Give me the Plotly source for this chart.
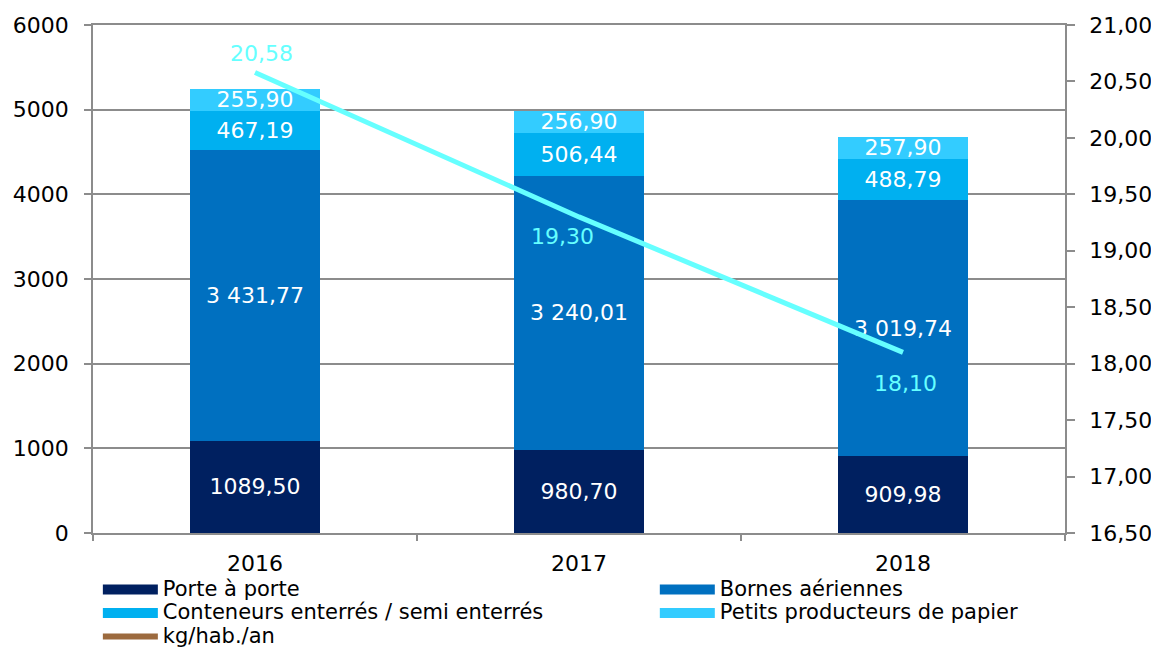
import plotly.graph_objects as go

years = ["2016", "2017", "2018"]
porte_a_porte = [1089.50, 980.70, 909.98]
bornes_aeriennes = [3431.77, 3240.01, 3019.74]
conteneurs = [467.19, 506.44, 488.79]
petits_producteurs = [255.90, 256.90, 257.90]
kg_hab_an = [20.58, 19.30, 18.10]

porte_labels = ["1089,50", "980,70", "909,98"]
bornes_labels = ["3 431,77", "3 240,01", "3 019,74"]
conteneurs_labels = ["467,19", "506,44", "488,79"]
petits_labels = ["255,90", "256,90", "257,90"]
kg_labels = ["20,58", "19,30", "18,10"]

series_names = ["Porte à porte", "Bornes aériennes",
                "Conteneurs enterrés / semi enterrés", "Petits producteurs de papier"]
line_name = "kg/hab./an"

series = [
    (series_names[0], porte_a_porte, porte_labels, "#002060", "legend"),
    (series_names[1], bornes_aeriennes, bornes_labels, "#0070C0", "legend2"),
    (series_names[2], conteneurs, conteneurs_labels, "#00B0F0", "legend"),
    (series_names[3], petits_producteurs, petits_labels, "#33CCFF", "legend2"),
]
line_color = "#66FFFF"
legend_line_color = "#9C6A3E"
grid_color = "#8C8C8C"
FONT = "DejaVu Sans, Liberation Sans, Arial, sans-serif"

fig = go.Figure()
for name, vals, labels, col, lg in series:
    fig.add_trace(go.Bar(
        x=years, y=vals, name=name, marker=dict(color=col, line=dict(width=0)),
        text=labels, textposition="inside", insidetextanchor="middle",
        textangle=0, textfont=dict(color="white", size=22, family=FONT),
        width=0.4, showlegend=False, hoverinfo="skip",
    ))

fig.add_trace(go.Scatter(
    x=years, y=kg_hab_an, yaxis="y2", mode="lines",
    line=dict(color=line_color, width=5), showlegend=False, hoverinfo="skip",
))

# label offsets for the line values (pixels)
lbl_shift = [(6, 19), (-17, -20), (2, -31)]
for i, (yv, lab, (dx, dy)) in enumerate(zip(kg_hab_an, kg_labels, lbl_shift)):
    fig.add_annotation(x=i, y=yv, yref="y2", text=lab, showarrow=False,
                       xshift=dx, yshift=dy,
                       font=dict(color=line_color, size=22, family=FONT))

# legend-only entries (wide rectangles), two columns via two legends
def leg_text(t):
    return "<span style='font-size:21px'>" + t + "</span>"

for name, vals, labels, col, lg in series:
    fig.add_trace(go.Scatter(x=[years[0]], y=[None], mode="lines", name=leg_text(name),
                             line=dict(color=col, width=11), hoverinfo="skip",
                             legend=lg))
fig.add_trace(go.Scatter(x=[years[0]], y=[None], mode="lines", name=leg_text(line_name),
                         line=dict(color=legend_line_color, width=6), hoverinfo="skip",
                         legend="legend"))

legend_common = dict(orientation="v", yanchor="top", itemwidth=55,
                     font=dict(size=15.8, family=FONT, color="black"),
                     traceorder="normal", tracegroupgap=0,
                     bgcolor="rgba(0,0,0,0)", borderwidth=0)

fig.update_layout(
    width=1151, height=642,
    margin=dict(l=85, r=94, t=17, b=117, autoexpand=False),
    barmode="stack",
    plot_bgcolor="white", paper_bgcolor="white",
    separators=", ",
    font=dict(family=FONT, size=22, color="black"),
    uniformtext=dict(mode="show", minsize=22),
    xaxis=dict(type="category", range=[-0.5, 2.5], showline=True, linecolor=grid_color,
               linewidth=1.5, mirror=True,
               ticks="outside", tickson="boundaries", ticklen=6, tickcolor=grid_color,
               tickwidth=1.5, showgrid=False, tickfont=dict(size=22), tickangle=0,
               ticklabelstandoff=10),
    yaxis=dict(range=[0, 6000], dtick=1000, showline=True, linecolor=grid_color,
               linewidth=1.5, ticks="outside", ticklen=7, tickcolor=grid_color,
               tickwidth=1.5, showgrid=True, gridcolor=grid_color, gridwidth=1.5,
               zeroline=False, ticklabelstandoff=11, tickfont=dict(size=22)),
    yaxis2=dict(range=[16.5, 21], dtick=0.5, tickformat=".2f", overlaying="y",
                side="right", showline=True, linecolor=grid_color, linewidth=1.5,
                ticks="outside", ticklen=8, tickcolor=grid_color, tickwidth=1.5,
                showgrid=False, zeroline=False, ticklabelstandoff=10,
                tickfont=dict(size=22)),
    legend=dict(x=0.005, y=-0.078, xanchor="left", **legend_common),
    legend2=dict(x=0.578, y=-0.078, xanchor="left", **legend_common),
)

fig.write_html("out.html")
